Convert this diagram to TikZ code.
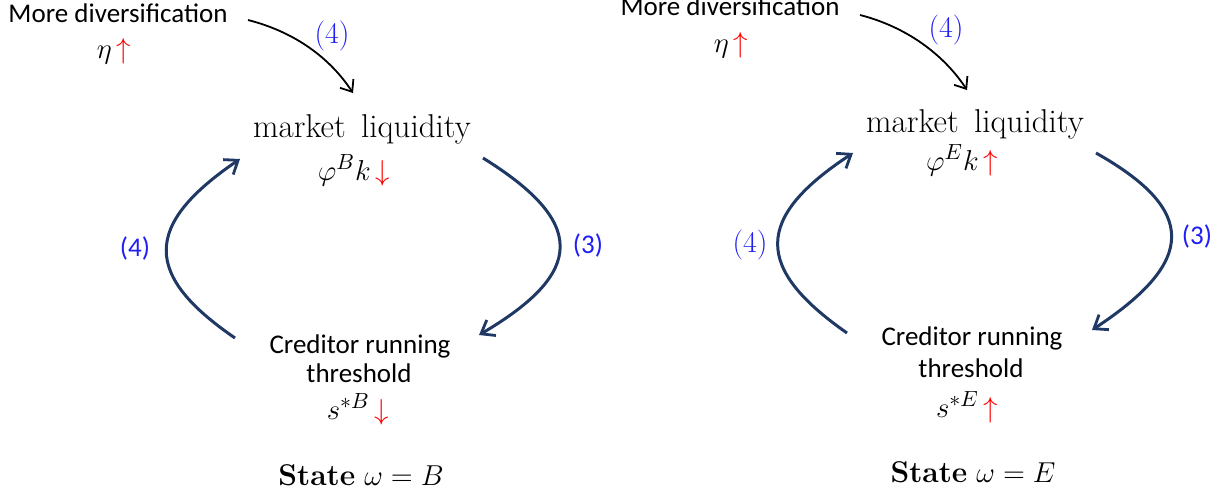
\documentclass[tikz,border=0pt]{standalone}
\usepackage{fontspec}
\setsansfont{Carlito}
\usepackage{xcolor}
\usepackage{tikz}
\usetikzlibrary{arrows.meta}
\definecolor{navyarc}{RGB}{31,56,100}
\definecolor{labblue}{RGB}{30,30,245}
\tikzstyle{cyc} = [line width=1.5pt, draw=navyarc, -{Straight Barb[length=6pt,width=9pt,line width=1.4pt]}]
\tikzstyle{push} = [line width=0.9pt, draw=black, -{Straight Barb[length=5pt,width=8pt,line width=0.9pt]}]

\begin{document}
\begin{tikzpicture}[x=0.5pt, y=-0.5pt,
  sflab/.style={font=\sffamily\fontsize{13.5}{16}\selectfont, inner sep=0pt, anchor=base},
  mlab/.style={font=\fontsize{15}{18}\selectfont, inner sep=0pt, anchor=base},
  liqlab/.style={font=\fontsize{16.5}{19}\selectfont, inner sep=0pt, anchor=base},
  numlab/.style={font=\fontsize{15}{18}\selectfont, text=labblue, inner sep=0pt},
  numlabsf/.style={font=\sffamily\fontsize{13.5}{16}\selectfont, text=labblue, inner sep=0pt}]
\useasboundingbox (0,0) rectangle (1229,499);

% State B (left)
\node (divB) at (118,22) [sflab] {More diversification};
\node (etaB) at (114,58) [mlab] {$\eta\,\textcolor{red}{\uparrow}$};
\node (liqB) at (362,137) [liqlab] {market~\,liquidity};
\node (phiB) at (354,180) [mlab] {$\varphi^{B}k\,\textcolor{red}{\downarrow}$};
\node (crB) at (360,353) [sflab] {Creditor running};
\node (thB) at (359,382) [sflab] {threshold};
\node (sB) at (358,419) [mlab] {$s^{*B}\,\textcolor{red}{\downarrow}$};
\node (stB) at (361,485) [mlab] {$\textbf{State}\ \omega=B$};

\node (n4topB) at (332,36) [numlab] {(4)};
\node (n3B) at (588,245) [numlabsf] {(3)};
\node (n4B) at (135,248) [numlabsf] {(4)};

\draw [push] ([shift={(130,-2)}]divB.base) .. controls +(47,12) and +(-23,-35) .. ([shift={(-9,-44)}]liqB.base);
\draw [cyc] ([shift={(121,21)}]liqB.base) .. controls +(103,64) and +(107,-63) .. ([shift={(119,-18)}]crB.base);
\draw [cyc] ([shift={(-125,-15)}]crB.base) .. controls +(-92,-63) and +(-97,66) .. ([shift={(-122,22)}]liqB.base);

% State E (right)
\node (divE) at (730,15) [sflab] {More diversification};
\node (etaE) at (731,52) [mlab] {$\eta\,\textcolor{red}{\uparrow}$};
\node (liqE) at (975,132) [liqlab] {market~\,liquidity};
\node (phiE) at (962,170) [mlab] {$\varphi^{E}k\,\textcolor{red}{\uparrow}$};
\node (crE) at (972,345) [sflab] {Creditor running};
\node (thE) at (971,377) [sflab] {threshold};
\node (sE) at (967,417) [mlab] {$s^{*E}\,\textcolor{red}{\uparrow}$};
\node (stE) at (973,482) [mlab] {$\textbf{State}\ \omega=E$};

\node (n4topE) at (946,30) [numlab] {(4)};
\node (n3E) at (1197,236) [numlabsf] {(3)};
\node (n4E) at (750,245) [numlab] {(4)};

\draw [push] ([shift={(130,0)}]divE.base) .. controls +(47,12) and +(-23,-35) .. ([shift={(-8,-42)}]liqE.base);
\draw [cyc] ([shift={(121,21)}]liqE.base) .. controls +(101,57) and +(105,-69) .. ([shift={(120,-15)}]crE.base);
\draw [cyc] ([shift={(-125,-12)}]crE.base) .. controls +(-93,-65) and +(-99,65) .. ([shift={(-122,21)}]liqE.base);

\end{tikzpicture}
\end{document}
